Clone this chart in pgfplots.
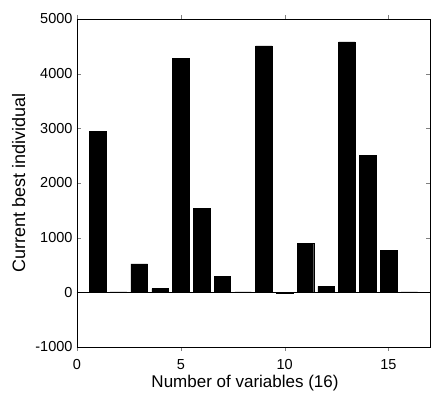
\documentclass[border=0pt]{standalone}
\usepackage{pgfplots}
\pgfplotsset{compat=1.18}
\usepackage{fontspec}
\setmainfont{Liberation Sans}
\begin{document}
\begin{tikzpicture}
\begin{axis}[
  at={(0,0)}, anchor=south west,
  scale only axis, width=353pt, height=328pt,
  xmin=0, xmax=17, ymin=-1000, ymax=5000,
  xtick={0,5,10,15}, ytick={-1000,0,1000,2000,3000,4000,5000},
  tick align=inside, tick pos=both,
  major tick length=4pt,
  /pgf/number format/assume math mode=true,
  /pgf/number format/set thousands separator={},
  scaled y ticks=false,
  ticklabel style={font=\fontsize{14.5}{16}\selectfont},
  xticklabel style={anchor=base, yshift=-19pt},
  yticklabel style={xshift=-1pt},
  xlabel={Number of variables (16)},
  ylabel={Current best individual},
  xlabel style={font=\fontsize{17}{19}\selectfont, at={(axis description cs:0.476,-0.125)}, anchor=base},
  ylabel style={font=\fontsize{18}{20}\selectfont, at={(axis description cs:-0.147,0.5)}, anchor=base},
  axis line style={line width=0.9pt},
  ybar, bar width=0.8,
]
\addplot[fill=black, draw=black] coordinates {
 (1,2950) (2,10) (3,520) (4,70) (5,4280) (6,1540) (7,290) (8,10)
 (9,4510) (10,-15) (11,890) (12,110) (13,4580) (14,2510) (15,770) (16,10)
};
\addplot[sharp plot, black, line width=0.8pt, forget plot] coordinates {(0,0) (17,0)};
\end{axis}
\pgfresetboundingbox
\path (-77pt,-48pt) rectangle (354pt,347pt);
\end{tikzpicture}
\end{document}
